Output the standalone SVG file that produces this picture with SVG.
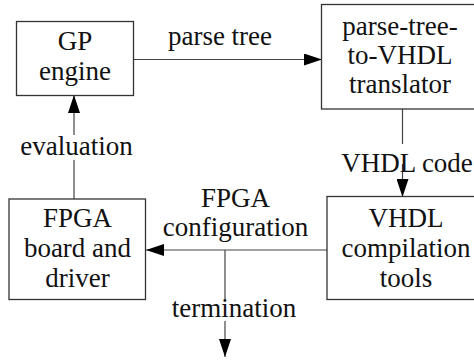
<svg xmlns="http://www.w3.org/2000/svg" width="474" height="360" viewBox="0 0 474 360">
<defs>
<style>
.box{fill:#fff;stroke:#333;stroke-width:1.3}
.ln{fill:none;stroke:#444;stroke-width:1.2}
.bg{fill:#fff;stroke:none}
.t{font-family:"Liberation Serif","Times New Roman",serif;font-size:27px;fill:#111;text-anchor:middle}
</style>
<marker id="ah" viewBox="0 0 18 12" refX="18" refY="6" markerWidth="18" markerHeight="12" markerUnits="userSpaceOnUse" orient="auto">
<path d="M0,0 L18,6 L0,12 Z" fill="#000"/>
</marker>
</defs>
<rect width="474" height="360" fill="#fff"/>
<g id="connectors">
<line class="ln" x1="134" y1="59.5" x2="322" y2="59.5" marker-end="url(#ah)"/>
<line class="ln" x1="402.5" y1="109" x2="402.5" y2="197" marker-end="url(#ah)"/>
<line class="ln" x1="327" y1="250" x2="146" y2="250" marker-end="url(#ah)"/>
<line class="ln" x1="225" y1="250" x2="225" y2="357" marker-end="url(#ah)"/>
<line class="ln" x1="74" y1="199" x2="74" y2="95" marker-end="url(#ah)"/>
<g id="lbl-parse-tree"><text class="t" x="220" y="45">parse tree</text></g>
<g id="lbl-vhdl-code"><rect class="bg" x="339" y="144" width="134" height="20"/><text class="t" x="407" y="171.5">VHDL code</text></g>
<g id="lbl-fpga-config"><text class="t" x="235.5" y="206.5">FPGA</text><text class="t" x="235.5" y="236">configuration</text></g>
<g id="lbl-termination"><rect class="bg" x="172" y="300" width="124" height="21"/><text class="t" x="234" y="316.5">termination</text></g>
<g id="lbl-evaluation"><rect class="bg" x="20" y="135" width="113" height="25"/><text class="t" x="76.5" y="155">evaluation</text></g>
</g>
<g id="gp-engine">
<rect class="box" x="16.5" y="21.5" width="117" height="74"/>
<text class="t" x="75" y="50">GP</text>
<text class="t" x="75" y="80">engine</text>
</g>
<g id="translator">
<rect class="box" x="321.5" y="4.5" width="160" height="104.5"/>
<text class="t" x="400" y="35">parse-tree-</text>
<text class="t" x="400" y="63.5">to-VHDL</text>
<text class="t" x="400" y="93">translator</text>
</g>
<g id="compilation">
<rect class="box" x="327" y="196.5" width="160" height="103"/>
<text class="t" x="406" y="226.5">VHDL</text>
<text class="t" x="406" y="256.5">compilation</text>
<text class="t" x="406" y="286.5">tools</text>
</g>
<g id="fpga-board">
<rect class="box" x="9" y="199" width="136.5" height="100.5"/>
<text class="t" x="77.5" y="226.5">FPGA</text>
<text class="t" x="77.5" y="256.5">board and</text>
<text class="t" x="77.5" y="286.5">driver</text>
</g>
</svg>
